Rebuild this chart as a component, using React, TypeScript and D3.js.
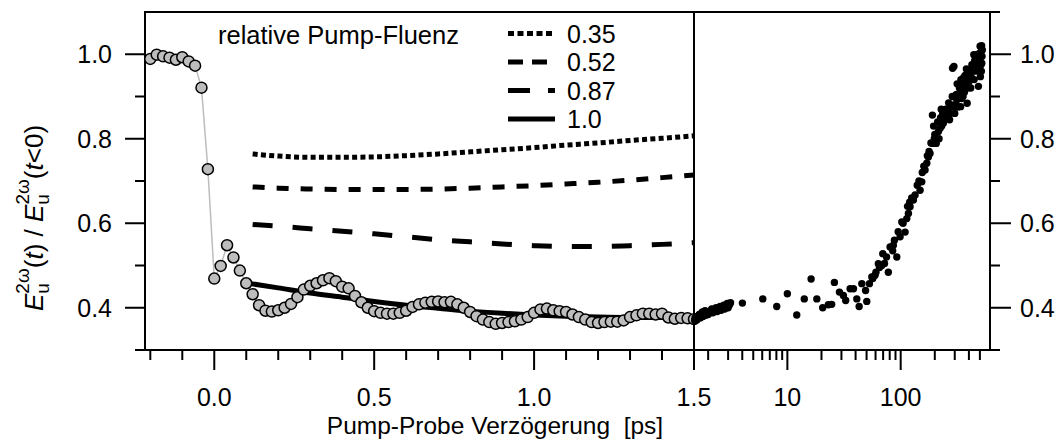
import React from 'react';
import * as d3 from 'd3';

const W = 1064;
const H = 448;

// gray circles: short delays (ps) and normalized field
const grayT = [
  -0.2, -0.18, -0.16, -0.14, -0.12, -0.1, -0.08, -0.06, -0.04, -0.02,
  0.0, 0.02, 0.04, 0.06, 0.08, 0.1, 0.12, 0.14, 0.16, 0.18,
  0.2, 0.22, 0.24, 0.26, 0.28, 0.3, 0.32, 0.34, 0.36, 0.38,
  0.4, 0.42, 0.44, 0.46, 0.48, 0.5, 0.52, 0.54, 0.56, 0.58,
  0.6, 0.62, 0.64, 0.66, 0.68, 0.7, 0.72, 0.74, 0.76, 0.78,
  0.8, 0.82, 0.84, 0.86, 0.88, 0.9, 0.92, 0.94, 0.96, 0.98,
  1.0, 1.02, 1.04, 1.06, 1.08, 1.1, 1.12, 1.14, 1.16, 1.18,
  1.2, 1.22, 1.24, 1.26, 1.28, 1.3, 1.32, 1.34, 1.36, 1.38,
  1.4, 1.42, 1.44, 1.46, 1.48, 1.5,
];
const grayV = [
  0.989, 0.999, 0.995, 0.992, 0.987, 0.993, 0.983, 0.973, 0.921, 0.728,
  0.469, 0.499, 0.548, 0.519, 0.488, 0.458, 0.432, 0.406, 0.393, 0.391,
  0.394, 0.4, 0.409, 0.425, 0.443, 0.452, 0.458, 0.465, 0.47, 0.463,
  0.45, 0.446, 0.428, 0.413, 0.4, 0.392, 0.388, 0.386, 0.386, 0.388,
  0.393, 0.402, 0.408, 0.412, 0.414, 0.415, 0.413, 0.414, 0.408, 0.4,
  0.39, 0.38, 0.372, 0.366, 0.362, 0.364, 0.366, 0.368, 0.372, 0.378,
  0.388, 0.396, 0.398, 0.394, 0.392, 0.39, 0.384, 0.378, 0.372, 0.366,
  0.364, 0.366, 0.367, 0.367, 0.37, 0.378, 0.382, 0.386, 0.386, 0.384,
  0.386, 0.377, 0.374, 0.376, 0.375, 0.373,
];

// black dots: long delays (ps, log axis)
const blackT = [
  1.52, 1.56, 1.6, 1.65, 1.7, 1.75, 1.8, 1.85, 1.9, 1.95,
  2.0, 2.1, 2.2, 2.3, 2.4, 2.5, 2.6, 2.7, 2.8, 2.9,
  3.0, 3.1, 3.15, 4.01, 6.07, 8.06, 10.0, 12.1, 14.1, 16.2,
  18.2, 20.5, 23.0, 24.6, 26.0, 28.8, 31.2, 32.7, 35.8, 38.3,
  41.0, 43.0, 45.4, 49.0, 50.2, 53.0, 55.6, 56.7, 59.4, 60.5,
  63.5, 65, 68.1, 69.5, 72, 75, 77.8, 80.6, 85, 86.2,
  88, 92.4, 95, 98.8, 102.3, 105, 109.4, 113.2, 115, 117,
  120, 121, 125, 129.5, 134, 140, 145, 148.3, 153.5, 155,
  160, 164.1, 169.9, 172, 175.5, 178, 181.6, 185, 190.5, 191.9,
  195, 200, 206, 208.3, 215.3, 222.8, 225, 230, 235, 238.4,
  245, 255.3, 260, 270, 273, 280, 287, 291.7, 295, 300,
  310, 312.6, 320, 330, 334.2, 338, 345, 350, 357.3, 365,
  370, 382.8, 386, 390, 395, 400, 410.2, 420, 425, 438.5,
  442, 450, 460, 469.9, 475, 480, 485.3, 490, 495, 502.3,
  505, 510, 515, 520, 522, 525,
  1.53, 1.58, 1.62, 1.68, 1.72, 1.78, 1.82, 1.88, 2.05, 2.15,
  2.25, 2.35, 2.45, 2.55, 2.65, 2.75, 2.85, 2.95, 3.05,
  198, 212, 218, 228, 240, 250, 265, 285, 305, 315,
  325, 340, 355, 360, 375, 380, 405, 415, 430, 445,
  455, 465, 485, 500, 512, 518,
];
const blackV = [
  0.37, 0.378, 0.372, 0.382, 0.376, 0.385, 0.379, 0.388, 0.382, 0.39,
  0.384, 0.392, 0.388, 0.395, 0.391, 0.398, 0.394, 0.401, 0.397, 0.404,
  0.4, 0.408, 0.412, 0.411, 0.421, 0.403, 0.433, 0.383, 0.421, 0.468,
  0.421, 0.4, 0.407, 0.408, 0.46, 0.437, 0.429, 0.417, 0.445, 0.445,
  0.421, 0.403, 0.457, 0.441, 0.415, 0.457, 0.473, 0.469, 0.477, 0.484,
  0.504, 0.495, 0.5, 0.528, 0.505, 0.52, 0.484, 0.544, 0.535, 0.548,
  0.56, 0.52, 0.58, 0.568, 0.603, 0.6, 0.579, 0.611, 0.64, 0.623,
  0.65, 0.639, 0.66, 0.655, 0.667, 0.69, 0.7, 0.678, 0.698, 0.72,
  0.735, 0.726, 0.742, 0.76, 0.757, 0.77, 0.765, 0.79, 0.856, 0.789,
  0.83, 0.81, 0.789, 0.797, 0.817, 0.825, 0.85, 0.83, 0.86, 0.837,
  0.855, 0.852, 0.87, 0.845, 0.86, 0.88, 0.967, 0.876, 0.971, 0.86,
  0.905, 0.892, 0.875, 0.92, 0.908, 0.876, 0.895, 0.935, 0.924, 0.91,
  0.95, 0.939, 0.884, 0.92, 0.96, 0.935, 0.963, 0.945, 0.975, 0.971,
  0.999, 0.985, 0.96, 0.987, 0.97, 1.0, 0.924, 0.965, 0.99, 1.019,
  0.947, 1.005, 0.96, 0.979, 0.995, 1.01,
  0.375, 0.372, 0.38, 0.385, 0.38, 0.39, 0.384, 0.393, 0.39, 0.397,
  0.392, 0.4, 0.396, 0.403, 0.398, 0.406, 0.402, 0.41, 0.405,
  0.8, 0.84, 0.8, 0.87, 0.845, 0.87, 0.885, 0.9, 0.88, 0.93,
  0.9, 0.94, 0.9, 0.945, 0.93, 0.965, 0.95, 0.92, 0.96, 0.94,
  0.975, 0.99, 0.97, 0.985, 0.975, 1.02,
];

// model curves for the relative pump fluences
const fitT = [0.12, 0.2, 0.3, 0.4, 0.5, 0.6, 0.7, 0.8, 0.9, 1.0, 1.1, 1.2, 1.3, 1.4, 1.5];
const fit035 = [0.764, 0.759, 0.756, 0.756, 0.757, 0.76, 0.764, 0.769, 0.774, 0.779, 0.785, 0.79, 0.796, 0.801, 0.807];
const fit052 = [0.686, 0.683, 0.681, 0.68, 0.68, 0.68, 0.681, 0.683, 0.686, 0.689, 0.693, 0.697, 0.702, 0.708, 0.714];
const fit087 = [0.597, 0.593, 0.587, 0.581, 0.575, 0.568, 0.561, 0.556, 0.551, 0.547, 0.545, 0.545, 0.547, 0.55, 0.554];
const solidT = [0.09, 0.2, 0.3, 0.4, 0.5, 0.6, 0.7, 0.8, 0.9, 1.0, 1.1, 1.2, 1.3, 1.4, 1.5];
const fit100 = [0.46, 0.447, 0.435, 0.425, 0.415, 0.406, 0.399, 0.392, 0.387, 0.383, 0.38, 0.378, 0.377, 0.377, 0.378];

const legendLabels = ['0.35', '0.52', '0.87', '1.0'];
const yMajor = [0.4, 0.6, 0.8, 1.0];
const yMinor = [0.5, 0.7, 0.9];
const linMajor = [0.0, 0.5, 1.0, 1.5];
const linMinor = [-0.2, -0.1, 0.1, 0.2, 0.3, 0.4, 0.6, 0.7, 0.8, 0.9, 1.1, 1.2, 1.3, 1.4];
const logMajor = [10, 100];
const logMinor = [2, 3, 4, 5, 6, 7, 8, 9, 20, 30, 40, 50, 60, 70, 80, 90, 200, 300, 400, 500];

const FONT = "'Liberation Sans', Arial, Helvetica, sans-serif";

export default function App() {
  const xL = d3.scaleLinear().domain([-0.2166, 1.5]).range([145, 694]);
  const xR = d3.scaleLog().domain([1.5, 614]).range([694, 990]);
  const y = d3.scaleLinear().domain([0.3, 1.1]).range([350, 12]);

  const yTop = y.range()[1];
  const yBot = y.range()[0];
  const xl0 = xL.range()[0];
  const xDiv = xL.range()[1];
  const xr1 = xR.range()[1];

  const grayPts = grayT.map((t, i) => [xL(t), y(grayV[i])] as [number, number]);
  const lineGen = d3.line<[number, number]>();
  const smooth = d3.line<[number, number]>().curve(d3.curveMonotoneX);
  const fitPath = (ts: number[], vs: number[]) => smooth(ts.map((t, i) => [xL(t), y(vs[i])] as [number, number])) || '';

  const legendDash = ['6,3.5', '15,9', '22,18', ''];
  const plotDash = ['5,3.3', '12,12', '20,20'];
  const fits = [fit035, fit052, fit087];

  const tick = { stroke: '#000', strokeWidth: 2 };
  const TF = 25;

  return (
    <svg width={W} height={H} style={{ position: 'absolute', left: 0, top: 0, background: '#fff' }} fontFamily={FONT}>
      <rect x={0} y={0} width={W} height={H} fill="#fff" />

      {/* frame */}
      <line x1={xl0} x2={1000} y1={yTop} y2={yTop} {...tick} />
      <line x1={135} x2={1000} y1={yBot} y2={yBot} {...tick} />
      <line x1={xl0} x2={xl0} y1={yTop - 1} y2={yBot + 1} {...tick} />
      <line x1={xr1} x2={xr1} y1={yTop - 1} y2={yBot + 1} {...tick} />
      <line x1={xDiv} x2={xDiv} y1={yTop} y2={yBot} {...tick} />

      {/* y ticks */}
      {yMajor.map((v) => (
        <g key={'yl' + v}>
          <line x1={xl0 - 20} x2={xl0} y1={y(v)} y2={y(v)} {...tick} />
          <line x1={xr1} x2={xr1 + 21} y1={y(v)} y2={y(v)} {...tick} />
          <text x={xl0 - 33} y={y(v)} dy="0.36em" textAnchor="end" fontSize={TF}>{v.toFixed(1)}</text>
          <text x={xr1 + 30} y={y(v)} dy="0.36em" textAnchor="start" fontSize={TF}>{v.toFixed(1)}</text>
        </g>
      ))}
      {yMinor.map((v) => (
        <g key={'ym' + v}>
          <line x1={xl0 - 10} x2={xl0} y1={y(v)} y2={y(v)} {...tick} />
          <line x1={xr1} x2={xr1 + 10} y1={y(v)} y2={y(v)} {...tick} />
        </g>
      ))}

      {/* bottom ticks */}
      {linMinor.map((t) => (
        <line key={'lm' + t} x1={xL(t)} x2={xL(t)} y1={yBot} y2={yBot + 10} {...tick} />
      ))}
      {linMajor.map((t) => (
        <g key={'lM' + t}>
          <line x1={xL(t)} x2={xL(t)} y1={yBot} y2={yBot + 20} {...tick} />
          <text x={xL(t)} y={406} textAnchor="middle" fontSize={TF}>{t.toFixed(1)}</text>
        </g>
      ))}
      {logMinor.map((t) => (
        <line key={'gm' + t} x1={xR(t)} x2={xR(t)} y1={yBot} y2={yBot + 10} {...tick} />
      ))}
      {logMajor.map((t) => (
        <g key={'gM' + t}>
          <line x1={xR(t)} x2={xR(t)} y1={yBot} y2={yBot + 20} {...tick} />
          <text x={xR(t)} y={406} textAnchor="middle" fontSize={TF}>{String(t)}</text>
        </g>
      ))}

      {/* axis titles */}
      <text x={495} y={434} textAnchor="middle" fontSize={24.5} style={{ whiteSpace: 'pre' }}>
        {'Pump-Probe Verzögerung  [ps]'}
      </text>
      <text transform="translate(43,218) rotate(-90)" textAnchor="middle" fontSize={26} style={{ whiteSpace: 'pre' }}>
        <tspan fontStyle="italic">E</tspan>
        <tspan fontSize={19} dy={6}>u</tspan>
        <tspan fontSize={19} dx={-10.5} dy={-20}>2ω</tspan>
        <tspan dy={14}>(</tspan>
        <tspan fontStyle="italic">t</tspan>
        <tspan>{') / '}</tspan>
        <tspan fontStyle="italic">E</tspan>
        <tspan fontSize={19} dy={6}>u</tspan>
        <tspan fontSize={19} dx={-10.5} dy={-20}>2ω</tspan>
        <tspan dy={14}>(</tspan>
        <tspan fontStyle="italic">t</tspan>
        <tspan>{'<0)'}</tspan>
      </text>

      {/* gray connecting line */}
      <path d={lineGen(grayPts) || ''} fill="none" stroke="#bdbdbd" strokeWidth={1.5} />

      {/* fit curves */}
      {fits.map((vs, i) => (
        <path key={'f' + i} d={fitPath(fitT, vs)} fill="none" stroke="#000" strokeWidth={5} strokeDasharray={plotDash[i]} />
      ))}
      <path d={fitPath(solidT, fit100)} fill="none" stroke="#000" strokeWidth={5} />

      {/* gray circles */}
      {grayPts.map((p, i) => (
        <circle key={'g' + i} cx={p[0]} cy={p[1]} r={5.5} fill="#bdbdbd" stroke="#000" strokeWidth={1.5} />
      ))}

      {/* black dots */}
      {blackT.map((t, i) => (
        <circle key={'b' + i} cx={xR(t)} cy={y(blackV[i])} r={3.7} fill="#000" />
      ))}

      {/* legend */}
      <text x={218} y={43.5} fontSize={25.5}>relative Pump-Fluenz</text>
      {legendLabels.map((lab, i) => {
        const yy = 33.5 + i * 28.5;
        return (
          <g key={'lg' + i}>
            <line x1={508} x2={555} y1={yy} y2={yy} stroke="#000" strokeWidth={5} strokeDasharray={legendDash[i] || undefined} />
            <text x={567} y={yy} dy="0.36em" fontSize={TF}>{lab}</text>
          </g>
        );
      })}
    </svg>
  );
}
